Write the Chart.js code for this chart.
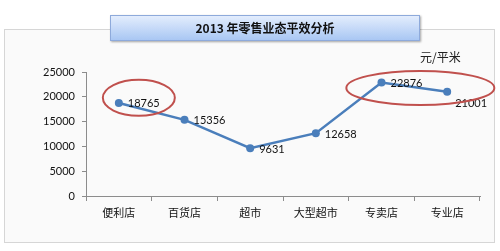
<!DOCTYPE html>
<html>
<head>
<meta charset="utf-8">
<script src="https://cdn.jsdelivr.net/npm/chart.js@4"></script>
<style>
  body { margin: 0; background: #ffffff; width: 500px; height: 251px; position: relative; overflow: hidden; }
  #panel { position: absolute; left: 4px; top: 29px; width: 489px; height: 212px; border: 1px solid #d6d6d6; background: #fafafa; }
  #chart { position: absolute; left: 0; top: 0; }
  #title { position: absolute; left: 110px; top: 15px; width: 308px; height: 24px; border: 1px solid #8eaadb;
    background: linear-gradient(#e3edfd, #a9c7f3); box-shadow: 1px 1px 2px rgba(0,0,0,0.35);
    font: bold 12px "Noto Sans CJK SC", sans-serif; color: #111; text-align: center; line-height: 24px; }
  #unit { position: absolute; left: 420px; top: 48px; font: 12px "Noto Sans CJK SC", sans-serif; color: #222; }
</style>
</head>
<body>
<div id="panel"></div>
<canvas id="chart" width="500" height="251"></canvas>
<div id="title">2013 年零售业态平效分析</div>
<div id="unit">元/平米</div>
<script>
const categories = ["便利店", "百货店", "超市", "大型超市", "专卖店", "专业店"];
const values = [18765, 15356, 9631, 12658, 22876, 21001];
const yTicks = [0, 5000, 10000, 15000, 20000, 25000];

const blue = "#4a7ebb";
const labelFont = '11px Lato, "Noto Sans CJK SC", sans-serif';

// value labels next to each point, plus the two red ellipses
const overlay = {
    id: "overlay",
    afterDatasetsDraw(chart) {
        const ctx = chart.ctx;
        const meta = chart.getDatasetMeta(0);
        const x = chart.scales.x;
        const y = chart.scales.y;
        ctx.save();
        ctx.font = labelFont;
        ctx.fillStyle = "#111";
        ctx.textBaseline = "middle";
        meta.data.forEach((pt, i) => {
            if (i === 5) {
                ctx.fillText(values[i], pt.x + 8, pt.y + 12);
            } else {
                ctx.fillText(values[i], pt.x + 9, pt.y + 1);
            }
        });
        ctx.strokeStyle = "#c0504d";
        ctx.lineWidth = 2;
        ctx.beginPath();
        ctx.ellipse(x.getPixelForValue(0) + 20, y.getPixelForValue(20000) + 1, 36, 18, 0, 0, Math.PI * 2);
        ctx.stroke();
        ctx.beginPath();
        ctx.ellipse((x.getPixelForValue(4) + x.getPixelForValue(5)) / 2 + 6, y.getPixelForValue(22000) + 1, 74, 17, 0, 0, Math.PI * 2);
        ctx.stroke();
        ctx.restore();
    },
};

new Chart(document.getElementById("chart").getContext("2d"), {
    type: "line",
    data: {
        labels: categories,
        datasets: [
            {
                data: values,
                borderColor: blue,
                backgroundColor: blue,
                borderWidth: 2.5,
                pointRadius: 4,
                pointBackgroundColor: blue,
                pointBorderWidth: 0,
                tension: 0,
            },
        ],
    },
    options: {
        responsive: false,
        animation: false,
        layout: { padding: { left: 0, right: 20, top: 72, bottom: 0 } },
        plugins: { legend: { display: false }, tooltip: { enabled: false } },
        scales: {
            x: {
                offset: true,
                grid: { offset: true, drawOnChartArea: false, tickLength: 5, color: "#8c8c8c" },
                border: { color: "#8c8c8c" },
                ticks: { color: "#111", font: { family: '"Noto Sans CJK SC", sans-serif', size: 11 }, padding: 5, maxRotation: 0 },
                afterFit(scale) { scale.height = 55; },
            },
            y: {
                min: 0,
                max: 25000,
                afterBuildTicks(scale) { scale.ticks = yTicks.map((v) => ({ value: v })); },
                grid: { drawOnChartArea: false, tickLength: 4, color: "#8c8c8c" },
                border: { color: "#8c8c8c" },
                ticks: { color: "#111", font: { family: 'Lato, sans-serif', size: 11 }, padding: 7, callback: (v) => String(v) },
                afterFit(scale) { scale.width = 86; },
            },
        },
    },
    plugins: [overlay],
});
</script>
</body>
</html>
